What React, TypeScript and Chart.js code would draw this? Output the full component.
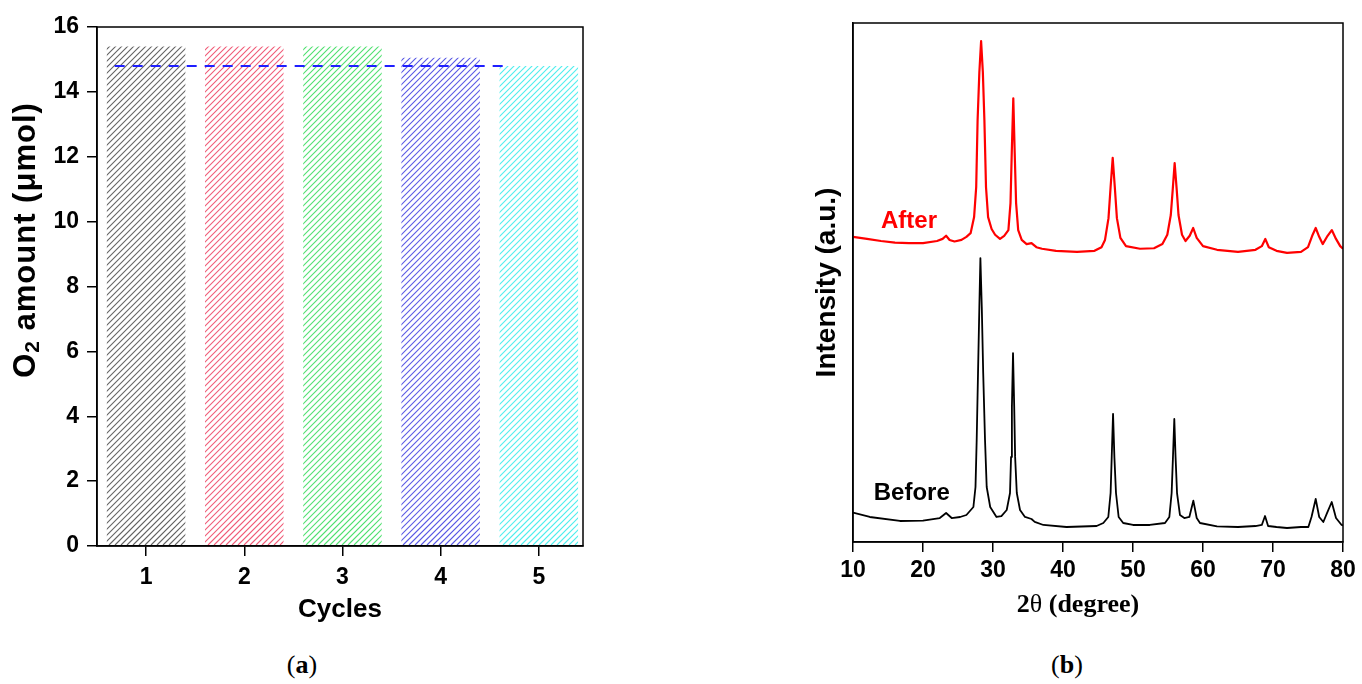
import React, { useEffect, useRef } from 'react';
import { Chart, registerables } from 'chart.js';

Chart.register(...registerables);
Chart.defaults.font.family = "'Liberation Sans', Arial, sans-serif";

// ---------- Panel (a): O2 evolution over cycles ----------
const cycles = [1, 2, 3, 4, 5];
const o2Amount = [15.4, 15.4, 15.4, 15.05, 14.8];
const avgLevel = 14.8;
const avgLineSpan = [0.68, 4.65];
const cycleTicks = [1, 2, 3, 4, 5];

// ---------- Panel (b): XRD patterns ----------
const beforeTheta = [10, 12.4, 16.7, 20, 22.4, 23.3, 24.1, 25.3, 26.2, 27.2, 27.5, 27.67, 27.86, 28.05, 28.2, 28.4, 28.6, 28.86, 29.1, 29.6, 30.5, 31.2, 31.96, 32.43, 32.58, 32.7, 32.86, 33.03, 33.16, 33.4, 33.86, 34.57, 35.5, 35.96, 37.2, 40.5, 44.8, 45.76, 46.47, 46.8, 46.96, 47.15, 47.34, 47.57, 47.95, 48.6, 50, 52.4, 54.57, 55.19, 55.52, 55.71, 55.9, 56.08, 56.29, 56.71, 57.33, 58.05, 58.62, 59.1, 59.57, 62, 65, 67.5, 68.4, 68.86, 69.3, 70.5, 72, 74, 75.05, 75.5, 76.1, 76.6, 77.19, 77.7, 78.39, 79.0, 79.8, 80];
const beforeIntensity = [5.65, 4.82, 4.05, 4.1, 4.62, 5.59, 4.62, 4.82, 5.2, 6.74, 10.6, 19.65, 32.56, 45.34, 54.7, 45.2, 32.56, 19.65, 10.6, 6.74, 4.82, 5.0, 6.17, 9.44, 16.4, 26.0, 36.4, 26.0, 16.4, 9.44, 6.17, 4.82, 4.43, 3.89, 3.28, 2.89, 3.08, 3.66, 4.82, 9.44, 16.4, 24.7, 16.4, 9.44, 4.82, 3.66, 3.28, 3.28, 3.66, 4.82, 9.44, 16.4, 23.7, 16.4, 9.44, 5.2, 4.62, 4.82, 7.96, 4.62, 3.66, 3.0, 2.89, 3.08, 3.28, 5.0, 3.08, 2.89, 2.7, 2.89, 2.89, 4.82, 8.29, 4.82, 3.85, 5.5, 7.71, 4.62, 3.28, 3.2];

const afterTheta = [10, 12, 14, 16, 18, 20, 22, 22.8, 23.3, 23.8, 24.5, 25.5, 26.2, 26.8, 27.3, 27.6, 27.8, 28.05, 28.3, 28.55, 28.77, 29.0, 29.3, 29.8, 30.3, 31.0, 31.6, 32.2, 32.5, 32.68, 32.9, 33.1, 33.3, 33.6, 34.1, 34.8, 35.5, 36.2, 37, 39, 42, 44.5, 45.5, 46.0, 46.5, 46.8, 47.1, 47.4, 47.7, 48.2, 49.0, 51, 53, 54.2, 54.9, 55.4, 55.67, 55.95, 56.25, 56.5, 57.0, 57.5, 58.1, 58.6, 59.1, 60, 62, 65, 67.5, 68.4, 68.9, 69.4, 70.5, 72, 74, 75.0, 75.6, 76.1, 76.6, 77.1, 77.8, 78.4, 79.0, 79.6, 80];
const afterIntensity = [58.8, 58.4, 58.0, 57.7, 57.6, 57.6, 58.0, 58.4, 59.0, 58.2, 57.9, 58.2, 58.8, 59.5, 62.6, 68.4, 81.3, 90.5, 96.5, 90.5, 81.3, 68.4, 62.6, 60.3, 59.2, 58.4, 59.0, 60.1, 65.3, 75.0, 85.5, 75.0, 65.3, 60.1, 58.2, 57.4, 57.6, 56.8, 56.5, 56.1, 55.9, 56.1, 56.8, 58.2, 62.4, 68.4, 74.0, 68.4, 62.4, 58.6, 57.0, 56.5, 56.6, 57.4, 59.2, 63.0, 67.8, 73.0, 67.8, 63.0, 59.2, 58.0, 59.0, 60.5, 58.6, 57.0, 56.3, 55.9, 56.3, 57.0, 58.4, 56.8, 56.1, 55.7, 55.9, 56.8, 59.0, 60.5, 58.8, 57.4, 59.0, 60.1, 58.4, 57.0, 56.5];

const twoThetaTicks = [10, 20, 30, 40, 50, 60, 70, 80];
const traceLabels = ['After', 'Before'];
const traceLabelTheta = [18.0, 18.4];
const traceLabelIntensity = [61.7, 9.4];

// ---------- styles ----------
const hatchColors = ['#646464', '#f05c78', '#50e070', '#5a5ae4', '#50eeee'];
const traceColors = ['#ff0000', '#000000'];
const SANS = "'Liberation Sans', Arial, sans-serif";
const SERIF = "'Liberation Serif', 'Times New Roman', serif";

const frameBox = {
  id: 'frameBox',
  afterDraw(chart: any) {
    const { ctx, chartArea } = chart;
    ctx.save();
    ctx.strokeStyle = '#000';
    ctx.lineWidth = 1.5;
    ctx.strokeRect(chartArea.left, chartArea.top, chartArea.right - chartArea.left, chartArea.bottom - chartArea.top);
    ctx.restore();
  },
};

// "/" hatching inside each bar element (geometry taken from the bar elements)
const hatchBars = {
  id: 'hatchBars',
  afterDatasetDraw(chart: any, args: any) {
    if (args.meta.type !== 'bar') return;
    const { ctx } = chart;
    args.meta.data.forEach((el: any, i: number) => {
      const { x, y, base, width } = el.getProps(['x', 'y', 'base', 'width'], true);
      const l = x - width / 2;
      const r = x + width / 2;
      const t = Math.min(y, base);
      const b = Math.max(y, base);
      const h = b - t;
      ctx.save();
      ctx.beginPath();
      ctx.rect(l, t, r - l, h);
      ctx.clip();
      ctx.strokeStyle = hatchColors[i % hatchColors.length];
      ctx.lineWidth = 1.1;
      ctx.beginPath();
      const bb = Math.round(b);
      const hh = Math.ceil(h) + 2;
      for (let k = Math.floor(l - hh) - 6; k < r + 6; k += 6) {
        ctx.moveTo(k, bb);
        ctx.lineTo(k + hh, bb - hh);
      }
      ctx.stroke();
      ctx.restore();
    });
  },
};

// rotated y title with a real subscript
const leftYTitle = {
  id: 'leftYTitle',
  afterDraw(chart: any) {
    const { ctx } = chart;
    const fMain = `bold 31px ${SANS}`;
    const fSub = `bold 21px ${SANS}`;
    ctx.save();
    (ctx as any).letterSpacing = '1px';
    ctx.font = fMain;
    const wO = ctx.measureText('O').width;
    const rest = ' amount (\u03bcmol)';
    const wRest = ctx.measureText(rest).width;
    ctx.font = fSub;
    const w2 = ctx.measureText('2').width;
    const total = wO + w2 + wRest;
    ctx.translate(26, 240);
    ctx.rotate(-Math.PI / 2);
    ctx.textBaseline = 'middle';
    ctx.textAlign = 'left';
    ctx.fillStyle = '#000';
    let x = -total / 2;
    ctx.font = fMain;
    ctx.fillText('O', x, 0);
    x += wO;
    ctx.font = fSub;
    ctx.fillText('2', x, 7);
    x += w2;
    ctx.font = fMain;
    ctx.fillText(rest, x, 0);
    ctx.restore();
  },
};

const rightXTitle = {
  id: 'rightXTitle',
  afterDraw(chart: any) {
    const { ctx } = chart;
    const parts: [string, string][] = [
      ['2', `bold 26px ${SERIF}`],
      ['\u03b8', `26px ${SERIF}`],
      [' (degree)', `bold 26px ${SERIF}`],
    ];
    ctx.save();
    let total = 0;
    const widths = parts.map(([t, f]) => {
      ctx.font = f;
      const w = ctx.measureText(t).width;
      total += w;
      return w;
    });
    ctx.textBaseline = 'middle';
    ctx.textAlign = 'left';
    ctx.fillStyle = '#000';
    let x = 318 - total / 2;
    parts.forEach(([t, f], i) => {
      ctx.font = f;
      ctx.fillText(t, x, 605);
      x += widths[i];
    });
    ctx.restore();
  },
};

const traceText = {
  id: 'traceText',
  afterDatasetsDraw(chart: any) {
    const { ctx, scales } = chart;
    ctx.save();
    ctx.font = `bold 24px ${SANS}`;
    ctx.textAlign = 'center';
    ctx.textBaseline = 'middle';
    traceLabels.forEach((t, i) => {
      ctx.fillStyle = traceColors[i];
      ctx.fillText(t, scales.x.getPixelForValue(traceLabelTheta[i]), scales.y.getPixelForValue(traceLabelIntensity[i]));
    });
    ctx.restore();
  },
};

const tickGrid = { drawOnChartArea: false, drawTicks: true, tickLength: 10, color: '#000', lineWidth: 1.5, offset: false };
const axisBorder = { display: true, color: '#000', width: 1.5 };

export default function App() {
  const leftRef = useRef<HTMLCanvasElement>(null);
  const rightRef = useRef<HTMLCanvasElement>(null);

  useEffect(() => {
    const left = new Chart(leftRef.current!, {
      type: 'bar',
      data: {
        datasets: [
          {
            type: 'line',
            data: avgLineSpan.map((x) => ({ x, y: avgLevel })),
            borderColor: '#1f1fff',
            borderWidth: 2,
            borderDash: [10, 8],
            pointRadius: 0,
            order: 0,
          } as any,
          {
            type: 'bar',
            data: cycles.map((c, i) => ({ x: c, y: o2Amount[i] })),
            backgroundColor: 'rgba(0,0,0,0)',
            borderWidth: 0,
            barPercentage: 0.8,
            categoryPercentage: 1,
            order: 1,
          } as any,
        ],
      },
      options: {
        animation: false,
        responsive: false,
        maintainAspectRatio: false,
        layout: { padding: { left: 0, top: 27, right: 17, bottom: 0 } },
        plugins: { legend: { display: false }, tooltip: { enabled: false }, colors: { enabled: false } },
        scales: {
          x: {
            type: 'linear',
            min: 0.5,
            max: 5.45,
            offset: false,
            grid: tickGrid,
            border: axisBorder,
            ticks: { font: { size: 23, weight: 'bold' }, color: '#000', padding: 8, maxRotation: 0, autoSkip: false },
            afterBuildTicks: (s: any) => {
              s.ticks = cycleTicks.map((v) => ({ value: v }));
            },
            afterFit: (s: any) => {
              s.height = 84;
            },
            title: { display: true, text: 'Cycles', font: { size: 26, weight: 'bold' }, color: '#000', padding: { top: 0, bottom: 5 } },
          },
          y: {
            type: 'linear',
            min: 0,
            max: 16,
            grid: tickGrid,
            border: axisBorder,
            ticks: { stepSize: 2, font: { size: 23, weight: 'bold' }, color: '#000', padding: 8 },
            afterFit: (s: any) => {
              s.width = 97;
            },
          },
        } as any,
      },
      plugins: [hatchBars, frameBox, leftYTitle],
    } as any);

    const right = new Chart(rightRef.current!, {
      type: 'line',
      data: {
        datasets: [
          {
            data: afterTheta.map((x, i) => ({ x, y: afterIntensity[i] })),
            borderColor: traceColors[0],
            borderWidth: 2.2,
            borderJoinStyle: 'round',
            pointRadius: 0,
            tension: 0,
          },
          {
            data: beforeTheta.map((x, i) => ({ x, y: beforeIntensity[i] })),
            borderColor: traceColors[1],
            borderWidth: 1.8,
            borderJoinStyle: 'round',
            pointRadius: 0,
            tension: 0,
          },
        ],
      },
      options: {
        animation: false,
        responsive: false,
        maintainAspectRatio: false,
        layout: { padding: { left: 0, top: 23, right: 19, bottom: 0 } },
        plugins: { legend: { display: false }, tooltip: { enabled: false } },
        scales: {
          x: {
            type: 'linear',
            min: 10,
            max: 80,
            grid: tickGrid,
            border: axisBorder,
            ticks: { font: { size: 23, weight: 'bold' }, color: '#000', padding: 5, maxRotation: 0, autoSkip: false },
            afterBuildTicks: (s: any) => {
              s.ticks = twoThetaTicks.map((v) => ({ value: v }));
            },
            afterFit: (s: any) => {
              s.height = 88;
            },
          },
          y: {
            type: 'linear',
            min: 0,
            max: 100,
            grid: { display: false },
            border: axisBorder,
            ticks: { display: false },
            afterFit: (s: any) => {
              s.width = 93;
            },
            title: { display: true, text: 'Intensity (a.u.)', font: { size: 28, weight: 'bold' }, color: '#000', padding: { top: 50, bottom: 0 } },
          },
        } as any,
      },
      plugins: [frameBox, traceText, rightXTitle],
    } as any);

    return () => {
      left.destroy();
      right.destroy();
    };
  }, []);

  const captionStyle: React.CSSProperties = {
    position: 'absolute',
    top: 650,
    width: 80,
    textAlign: 'center',
    fontFamily: SERIF,
    fontSize: 26,
    lineHeight: '30px',
    color: '#000',
  };

  return (
    <div style={{ position: 'absolute', left: 0, top: 0, width: 1362, height: 684, background: '#fff', overflow: 'hidden' }}>
      <canvas ref={leftRef} width={600} height={630} style={{ position: 'absolute', left: 0, top: 0, width: 600, height: 630 }} />
      <canvas ref={rightRef} width={602} height={630} style={{ position: 'absolute', left: 760, top: 0, width: 602, height: 630 }} />
      <div style={{ ...captionStyle, left: 302 - 40 }}>
        (<b>a</b>)
      </div>
      <div style={{ ...captionStyle, left: 1067 - 40 }}>
        (<b>b</b>)
      </div>
    </div>
  );
}
